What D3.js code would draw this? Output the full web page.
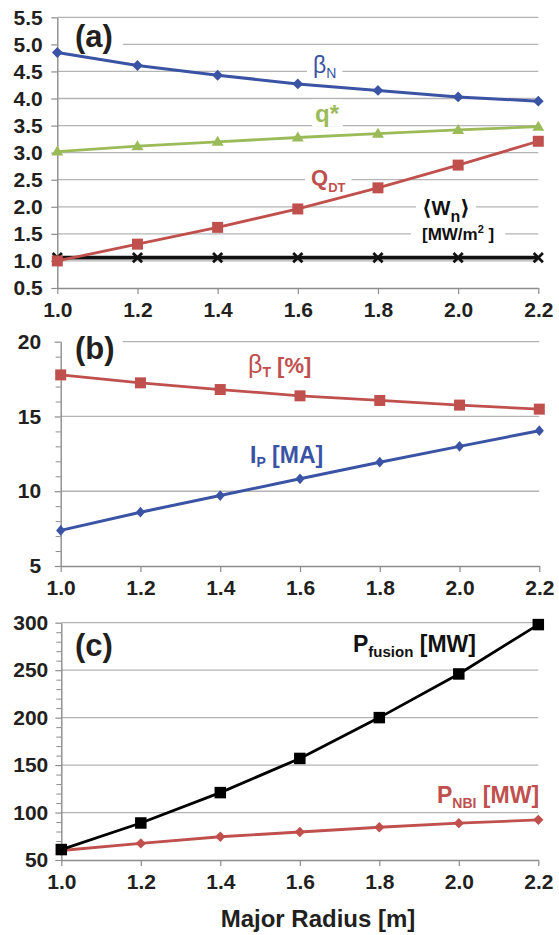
<!DOCTYPE html>
<html>
<head>
<meta charset="utf-8">
<script src="https://cdn.jsdelivr.net/npm/d3@7"></script>
<style>
  body { margin: 0; background: #fff; }
  svg text { font-family: "Liberation Sans", Arial, Helvetica, sans-serif; }
</style>
</head>
<body>
<svg id="chart" width="559" height="935"></svg>
<script>
// Shared x values: major radius [m]
const radius = [1.0, 1.2, 1.4, 1.6, 1.8, 2.0, 2.2];

// Panel (a)
const betaN     = [4.85, 4.61, 4.43, 4.27, 4.15, 4.03, 3.95];
const qStar     = [3.02, 3.12, 3.20, 3.28, 3.35, 3.42, 3.48];
const qDT       = [1.00, 1.31, 1.62, 1.96, 2.35, 2.77, 3.21];
const wallLoad  = [1.06, 1.06, 1.06, 1.06, 1.06, 1.06, 1.06];
const ticksA    = [0.5, 1.0, 1.5, 2.0, 2.5, 3.0, 3.5, 4.0, 4.5, 5.0, 5.5];

// Panel (b)
const betaT         = [17.78, 17.25, 16.80, 16.38, 16.07, 15.76, 15.49];
const plasmaCurrent = [7.38, 8.60, 9.71, 10.83, 11.94, 13.00, 14.05];
const ticksB        = [5, 10, 15, 20];
const minorB        = [6, 7, 8, 9, 11, 12, 13, 14, 16, 17, 18, 19];

// Panel (c)
const pFusion = [61, 89, 121, 157, 200, 246, 298];
const pNBI    = [60, 67.5, 74.5, 79.5, 84.5, 88.8, 92.3];
const ticksC  = [50, 100, 150, 200, 250, 300];
const minorC  = d3.range(60, 300, 10).filter(v => v % 50 !== 0);

const BLUE = "#3a53a4", GREEN = "#9bbb59", RED = "#c0504d", INK = "#231f20";
const GRID = "#b4b4b4", AXIS = "#8c8c8c";

const svg = d3.select("#chart");

// Marker shapes
const marker = {
  diamond: (w, h) => `M0,${-h}L${w},0L0,${h}L${-w},0Z`,
  square: s => `M${-s/2},${-s/2}h${s}v${s}h${-s}Z`,
  triangle: (w, h) => `M0,${-h*0.6}L${w/2},${h*0.4}L${-w/2},${h*0.4}Z`,
  cross: s => `M${-s},${-s}L${s},${s}M${-s},${s}L${s},${-s}`
};

function makePanel(cfg) {
  const g = svg.append("g");
  const x = d3.scaleLinear().domain([1.0, 2.2]).range([cfg.x0, cfg.x1]);
  const y = d3.scaleLinear().domain([cfg.ticks[0], cfg.ticks[cfg.ticks.length - 1]])
    .range([cfg.yBottom, cfg.yTop]);

  const gridLayer = g.append("g");
  const maskLayer = g.append("g");
  const axisLayer = g.append("g");
  const seriesLayer = g.append("g");
  const labelLayer = g.append("g");

  // horizontal gridlines
  gridLayer.selectAll("line").data(cfg.ticks.slice(1)).join("line")
    .attr("x1", x(1.0)).attr("x2", x(2.2))
    .attr("y1", d => y(d)).attr("y2", d => y(d))
    .attr("stroke", GRID).attr("stroke-width", 1.3);

  // y axis
  const yAx = axisLayer.append("g").attr("transform", `translate(${x(1.0)},0)`)
    .call(d3.axisLeft(y).tickValues(cfg.ticks).tickSize(6).tickSizeOuter(0)
      .tickPadding(cfg.yPad).tickFormat(cfg.fmt));
  if (cfg.minor) {
    axisLayer.append("g").attr("transform", `translate(${x(1.0)},0)`)
      .call(d3.axisLeft(y).tickValues(cfg.minor).tickSize(5).tickSizeOuter(0).tickFormat(""))
      .call(a => a.select(".domain").remove())
      .selectAll("line").attr("stroke", AXIS).attr("stroke-width", 1);
  }
  // x axis
  const xAx = axisLayer.append("g").attr("transform", `translate(0,${cfg.yBottom})`)
    .call(d3.axisBottom(x).tickValues(radius).tickSize(6).tickSizeOuter(0)
      .tickPadding(8).tickFormat(d3.format(".1f")));

  [yAx, xAx].forEach(a => {
    a.select(".domain").attr("stroke", AXIS).attr("stroke-width", 1.4);
    a.selectAll(".tick line").attr("stroke", AXIS).attr("stroke-width", 1.2);
    a.selectAll("text").attr("fill", INK).attr("font-size", 21).attr("font-weight", "bold")
      .style("font-family", "'Liberation Sans', Arial, sans-serif");
  });

  // series
  cfg.series.forEach(s => {
    const line = d3.line().x((d, i) => x(radius[i])).y(d => y(d));
    seriesLayer.append("path").datum(s.values)
      .attr("d", line).attr("fill", "none")
      .attr("stroke", s.color).attr("stroke-width", s.width)
      .attr("stroke-linejoin", "round");
    seriesLayer.append("g").selectAll("path").data(s.values).join("path")
      .attr("transform", (d, i) => `translate(${x(radius[i])},${y(d)})`)
      .attr("d", s.marker)
      .attr("fill", s.stroked ? "none" : s.color)
      .attr("stroke", s.stroked ? s.color : "none")
      .attr("stroke-width", s.stroked ? 2.8 : 0);
  });

  // text labels with optional white backing that interrupts gridlines
  cfg.labels.forEach(l => {
    const t = labelLayer.append("text")
      .attr("x", l.x).attr("y", l.y)
      .attr("fill", l.color).attr("font-weight", l.weight || "bold");
    l.parts.forEach(p => {
      const ts = t.append("tspan").text(p.t)
        .attr("font-size", p.size)
        .attr("font-weight", p.weight || l.weight || "bold");
      if (p.dy) ts.attr("dy", p.dy);
      if (p.dx) ts.attr("dx", p.dx);
      if (p.font) ts.style("font-family", p.font);
    });
    if (l.mask) {
      const b = t.node().getBBox();
      const m = l.mask;
      const x0 = m.left !== undefined ? m.left : b.x - m.px;
      const x1 = b.x + b.width + m.px;
      maskLayer.append("rect")
        .attr("x", x0).attr("y", b.y + (m.top || 0))
        .attr("width", x1 - x0).attr("height", b.height - (m.top || 0) - (m.bottom || 0))
        .attr("fill", "#fff");
    }
  });
  return { x, y };
}

// (a) plasma parameters
makePanel({
  x0: 57.3, x1: 538.3, yBottom: 288, yTop: 17.3,
  ticks: ticksA, fmt: d3.format(".1f"), yPad: 8.5,
  series: [
    { values: wallLoad, color: "#111", width: 3.8, marker: marker.cross(4.6), stroked: true },
    { values: qDT, color: RED, width: 2.8, marker: marker.square(11) },
    { values: qStar, color: GREEN, width: 2.8, marker: marker.triangle(12, 10) },
    { values: betaN, color: BLUE, width: 3, marker: marker.diamond(5.4, 5.4) }
  ],
  labels: [
    { x: 75, y: 46.5, color: INK, parts: [{ t: "(a)", size: 31 }], mask: { left: 58, px: 10, top: 4, bottom: 4 } },
    { x: 313, y: 73, color: BLUE, weight: "normal",
      parts: [{ t: "β", size: 23 }, { t: "N", size: 14, dy: 5 }], mask: { px: 6, top: 2, bottom: 2 } },
    { x: 315, y: 121.5, color: GREEN,
      parts: [{ t: "q*", size: 24 }], mask: { px: 3, top: 0, bottom: 0 } },
    { x: 311, y: 185, color: RED,
      parts: [{ t: "Q", size: 22 }, { t: "DT", size: 13, dy: 6.5 }], mask: { px: 6, top: 0, bottom: 0 } },
    { x: 422, y: 215, color: "#111",
      parts: [{ t: "⟨", size: 21, font: "'DejaVu Sans', sans-serif" },
              { t: "W", size: 20 }, { t: "n", size: 16, dy: 7 },
              { t: "⟩", size: 21, dy: -7, font: "'DejaVu Sans', sans-serif" }],
      mask: { px: 6, top: 0, bottom: 4 } },
    { x: 422, y: 240, color: "#111",
      parts: [{ t: "[MW/m", size: 17 }, { t: "2", size: 11, dy: -7 }, { t: " ]", size: 17, dy: 7 }],
      mask: { px: 11, top: 0, bottom: 0 } }
  ]
});

// (b) beta_T and plasma current
makePanel({
  x0: 60.7, x1: 539.3, yBottom: 566, yTop: 341.7,
  ticks: ticksB, minor: minorB, fmt: d3.format("d"), yPad: 13.5,
  series: [
    { values: betaT, color: RED, width: 2.8, marker: marker.square(11) },
    { values: plasmaCurrent, color: BLUE, width: 3, marker: marker.diamond(4.6, 5.4) }
  ],
  labels: [
    { x: 75, y: 358.5, color: INK, parts: [{ t: "(b)", size: 31 }], mask: { left: 61.5, px: 8, top: 4, bottom: 4 } },
    { x: 248, y: 373, color: RED,
      parts: [{ t: "β", size: 25, weight: "normal" }, { t: "T", size: 14, dy: 4 }, { t: " [%]", size: 22, dy: -4 }] },
    { x: 250, y: 463, color: BLUE,
      parts: [{ t: "I", size: 23 }, { t: "P", size: 14, dy: 4 }, { t: " [MA]", size: 23, dy: -4 }] }
  ]
});

// (c) fusion and beam power
makePanel({
  x0: 61.3, x1: 538.3, yBottom: 860, yTop: 622.7,
  ticks: ticksC, minor: minorC, fmt: d3.format("d"), yPad: 7,
  series: [
    { values: pNBI, color: RED, width: 2.8, marker: marker.diamond(5.2, 5.2) },
    { values: pFusion, color: "#000", width: 2.8, marker: marker.square(11.5) }
  ],
  labels: [
    { x: 75, y: 655.5, color: INK, parts: [{ t: "(c)", size: 31 }] },
    { x: 353, y: 652, color: "#111",
      parts: [{ t: "P", size: 23 }, { t: "fusion", size: 15, dy: 5 }, { t: " [MW]", size: 23, dy: -5 }] },
    { x: 437, y: 803, color: RED,
      parts: [{ t: "P", size: 23 }, { t: "NBI", size: 14, dy: 5 }, { t: " [MW]", size: 23, dy: -5 }] }
  ]
});

// shared x-axis title
svg.append("text")
  .attr("x", 318).attr("y", 927).attr("text-anchor", "middle")
  .attr("font-size", 24).attr("font-weight", "bold").attr("fill", INK)
  .text("Major Radius [m]");
</script>
</body>
</html>
